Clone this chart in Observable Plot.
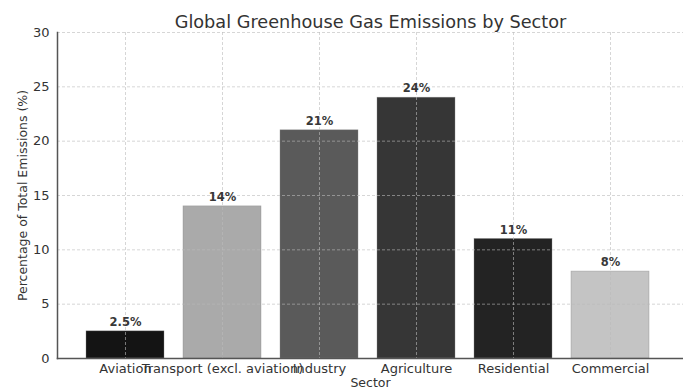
<!DOCTYPE html>
<html>
<head>
<meta charset="utf-8">
<script src="https://cdn.jsdelivr.net/npm/d3@7"></script>
<script src="https://cdn.jsdelivr.net/npm/@observablehq/plot@0.6"></script>
<style>
  html, body { margin: 0; padding: 0; background: #fff; }
  #chart { width: 683px; height: 388px; }
</style>
</head>
<body>
<div id="chart"></div>
<script>
const sectors = ["Aviation", "Transport (excl. aviation)", "Industry", "Agriculture", "Residential", "Commercial"];
const values = [2.5, 14, 21, 24, 11, 8];
const valueLabels = ["2.5%", "14%", "21%", "24%", "11%", "8%"];
const barColors = ["#141414", "#aaaaaa", "#5a5a5a", "#363636", "#232323", "#c4c4c4"];
const yTicks = [0, 5, 10, 15, 20, 25, 30];
const title = "Global Greenhouse Gas Emissions by Sector";
const xLabel = "Sector";
const yLabel = "Percentage of Total Emissions (%)";

const data = sectors.map((s, i) => ({sector: s, value: values[i], label: valueLabels[i], color: barColors[i]}));

const chart = Plot.plot({
  width: 683,
  height: 388,
  marginTop: 32,
  marginBottom: 30,
  marginLeft: 57,
  marginRight: 0,
  style: {fontFamily: "DejaVu Sans", fontSize: "13px", color: "#333", background: "#fff"},
  x: {type: "band", domain: sectors, range: [75, 659], paddingInner: 0.2, paddingOuter: 0.1},
  y: {domain: [0, 30]},
  marks: [
    Plot.barY(data, {x: "sector", y: "value", fill: "color", stroke: "#888", strokeWidth: 0.6, strokeOpacity: 0.6}),
    Plot.gridX(sectors, {stroke: "#bbb", strokeOpacity: 0.6, strokeDasharray: "3,2"}),
    Plot.gridY(yTicks, {stroke: "#bbb", strokeOpacity: 0.6, strokeDasharray: "3,2"}),
    Plot.text(data, {x: "sector", y: "value", text: "label", dy: -9, fontWeight: "bold", fontSize: 11.5, fill: "#383838"}),
    Plot.axisY({ticks: yTicks, tickSize: 0, tickPadding: 8, fontSize: 13, label: null}),
    Plot.axisX({tickSize: 0, tickPadding: 5, fontSize: 13, label: null}),
    Plot.text([yLabel], {text: d => d, frameAnchor: "left", textAnchor: "middle", lineAnchor: "middle", rotate: -90, dx: -35, fontSize: 12.5, fill: "#333"}),
    Plot.text([xLabel], {text: d => d, frameAnchor: "bottom", lineAnchor: "middle", dy: 24, fontSize: 12.5, fill: "#333"}),
    Plot.frame({anchor: "left", stroke: "#555", strokeWidth: 1.5}),
    Plot.frame({anchor: "bottom", stroke: "#555", strokeWidth: 1.5}),
    Plot.text([title], {text: d => d, frameAnchor: "top", lineAnchor: "middle", dy: -10, fontSize: 17.7, fill: "#333"})
  ]
});
document.getElementById("chart").appendChild(chart);
</script>
</body>
</html>
